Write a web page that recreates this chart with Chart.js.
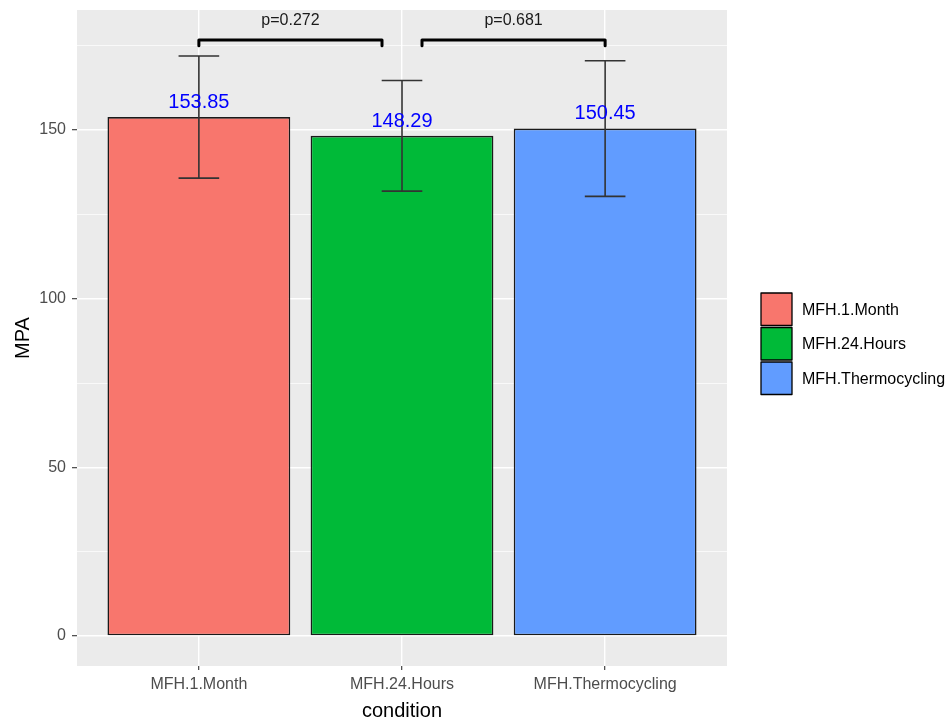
<!DOCTYPE html>
<html>
<head>
<meta charset="utf-8">
<script src="https://cdn.jsdelivr.net/npm/chart.js@4"></script>
<style>
  html, body { margin: 0; padding: 0; background: #fff; }
  #wrap { width: 952px; height: 726px; }
</style>
</head>
<body>
<div id="wrap"><canvas id="myChart" width="952" height="726"></canvas></div>
<script>
const categories = ["MFH.1.Month", "MFH.24.Hours", "MFH.Thermocycling"];
const means = [153.85, 148.29, 150.45];
const sds = [18.1, 16.4, 20.1];
const colors = ["#F8766D", "#00BA38", "#619CFF"];
const pLabels = ["p=0.272", "p=0.681"];
const pPairs = [[0, 1], [1, 2]];
const bracketY = 176.7;
const yTicks = [0, 25, 50, 75, 100, 125, 150, 175];

const font = "'Liberation Sans', Arial, sans-serif";

// grey panel + error bars + labels + brackets + legend
const ggExtras = {
  id: "ggExtras",
  beforeDraw(chart) {
    const a = chart.chartArea;
    const c = chart.ctx;
    c.save();
    c.fillStyle = "#EBEBEB";
    c.fillRect(a.left, a.top, a.right - a.left, a.bottom - a.top);
    c.restore();
  },
  afterDatasetsDraw(chart) {
    const c = chart.ctx;
    const xs = chart.scales.x;
    const ys = chart.scales.y;
    c.save();
    // error bars
    c.strokeStyle = "#333333";
    c.lineWidth = 1.6;
    for (let i = 0; i < means.length; i++) {
      const x = xs.getPixelForValue(i + 1);
      const half = xs.getPixelForValue(i + 1.1) - x;
      const top = ys.getPixelForValue(means[i] + sds[i]);
      const bot = ys.getPixelForValue(means[i] - sds[i]);
      c.beginPath();
      c.moveTo(x, top); c.lineTo(x, bot);
      c.moveTo(x - half, top); c.lineTo(x + half, top);
      c.moveTo(x - half, bot); c.lineTo(x + half, bot);
      c.stroke();
    }
    // value labels
    c.fillStyle = "#0000FF";
    c.font = "20px " + font;
    c.textAlign = "center";
    c.textBaseline = "middle";
    for (let i = 0; i < means.length; i++) {
      c.fillText(means[i].toFixed(2), xs.getPixelForValue(i + 1), ys.getPixelForValue(means[i] + 4.4));
    }
    // brackets
    c.strokeStyle = "#000";
    c.lineWidth = 3;
    c.lineCap = "round";
    c.lineJoin = "round";
    c.fillStyle = "#1a1a1a";
    c.font = "16px " + font;
    for (let k = 0; k < pPairs.length; k++) {
      const x1 = xs.getPixelForValue(pPairs[k][0] + 1) + (k > 0 ? 20 : 0);
      const x2 = xs.getPixelForValue(pPairs[k][1] + 1) - (k === 0 ? 20 : 0);
      const yb = ys.getPixelForValue(bracketY);
      const yt = ys.getPixelForValue(bracketY - 1.7);
      c.beginPath();
      c.moveTo(x1, yt); c.lineTo(x1, yb); c.lineTo(x2, yb); c.lineTo(x2, yt);
      c.stroke();
      c.fillText(pLabels[k], (x1 + x2) / 2, yb - 19);
    }
    // legend
    const lx = 760, ly = 292, bw = 33, bh = 34.5;
    c.lineWidth = 1.3;
    c.lineCap = "butt";
    c.textAlign = "left";
    c.font = "16px " + font;
    for (let i = 0; i < categories.length; i++) {
      const y = ly + i * bh;
      c.fillStyle = colors[i];
      c.fillRect(lx + 1, y + 1, bw - 2, bh - 2);
      c.strokeStyle = "#000";
      c.strokeRect(lx + 1, y + 1, bw - 2, bh - 2);
      c.fillStyle = "#000";
      c.fillText(categories[i], 802, y + bh / 2 + 1);
    }
    c.restore();
  }
};

const ctx = document.getElementById("myChart");

new Chart(ctx, {
  type: "bar",
  data: {
    datasets: [
      {
        data: means.map((m, i) => ({ x: i + 1, y: m })),
        backgroundColor: colors,
        borderColor: "#1a1a1a",
        borderWidth: 1.6,
        borderSkipped: false,
        barPercentage: 0.9,
        categoryPercentage: 1,
      },
    ],
  },
  options: {
    responsive: false,
    animation: false,
    events: [],
    layout: { padding: { left: 0, right: 225, top: 10, bottom: 0 } },
    plugins: { legend: { display: false }, tooltip: { enabled: false } },
    scales: {
      x: {
        type: "linear",
        min: 0.4,
        max: 3.6,
        offset: false,
        afterBuildTicks: (s) => { s.ticks = [1, 2, 3].map((v) => ({ value: v })); },
        afterFit: (s) => { s.height = 60; s.paddingLeft = 0; s.paddingRight = 0; },
        grid: { offset: false, color: "#FFFFFF", lineWidth: 1.4, tickColor: "#333333", tickLength: 4, tickWidth: 1.1 },
        border: { display: false },
        ticks: {
          autoSkip: false,
          maxRotation: 0,
          padding: 5,
          color: "#4D4D4D",
          font: { family: font, size: 16 },
          callback: (v) => categories[v - 1],
        },
        title: { display: true, text: "condition", color: "#000", font: { family: font, size: 20 }, padding: { top: 0, bottom: 3 } },
      },
      y: {
        min: -8.9,
        max: 185.6,
        afterBuildTicks: (s) => { s.ticks = yTicks.map((v) => ({ value: v })); },
        afterFit: (s) => { s.width = 77; s.paddingTop = 0; s.paddingBottom = 0; },
        grid: {
          color: "#FFFFFF",
          lineWidth: (c) => (c.tick && c.tick.value % 50 === 0 ? 1.4 : 0.7),
          tickColor: (c) => (c.tick && c.tick.value % 50 === 0 ? "#333333" : "rgba(0,0,0,0)"),
          tickLength: 5,
          tickWidth: 1.1,
        },
        border: { display: false },
        ticks: {
          padding: 6,
          color: "#4D4D4D",
          font: { family: font, size: 16 },
          callback: (v) => (v % 50 === 0 ? String(v) : ""),
        },
        title: { display: true, text: "MPA", color: "#000", font: { family: font, size: 20 }, padding: { top: 11, bottom: 0 } },
      },
    },
  },
  plugins: [ggExtras],
});
</script>
</body>
</html>
